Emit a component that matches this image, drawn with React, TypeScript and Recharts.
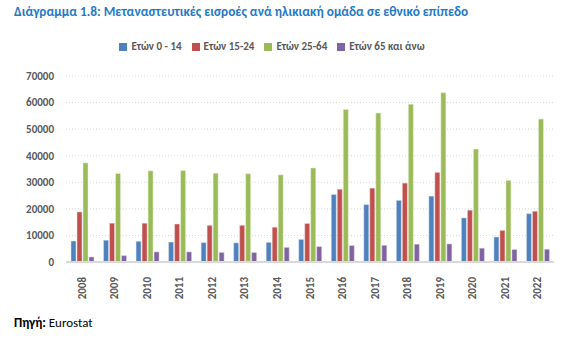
import { BarChart, Bar, XAxis, YAxis, CartesianGrid, Legend } from "recharts";

const years = ["2008", "2009", "2010", "2011", "2012", "2013", "2014", "2015", "2016", "2017", "2018", "2019", "2020", "2021", "2022"];
const age0to14 = [7900, 8200, 7800, 7500, 7300, 7200, 7400, 8500, 25400, 21600, 23200, 24800, 16600, 9400, 18200];
const age15to24 = [18850, 14600, 14600, 14300, 13800, 13800, 13100, 14500, 27400, 27800, 29700, 33700, 19500, 11900, 19100];
const age25to64 = [37300, 33300, 34300, 34400, 33400, 33200, 32800, 35400, 57400, 56100, 59400, 63700, 42500, 30700, 53800];
const age65plus = [1900, 2400, 3800, 3800, 3600, 3600, 5500, 5800, 6200, 6300, 6700, 6800, 5200, 4700, 4800];
const yTicks = [0, 10000, 20000, 30000, 40000, 50000, 60000, 70000];

const data = years.map((y, i) => ({
  year: y,
  a: age0to14[i],
  b: age15to24[i],
  c: age25to64[i],
  d: age65plus[i],
}));

const font = "Carlito, 'Open Sans', 'Liberation Sans', sans-serif";

function YearTick({ x, y, payload }: any) {
  return (
    <text
      x={x}
      y={y + 7}
      transform={`rotate(-90 ${x} ${y + 7})`}
      textAnchor="end"
      dominantBaseline="central"
      fontSize={11}
      fontWeight="bold"
      fill="#595959"
      fontFamily={font}
    >
      {payload.value}
    </text>
  );
}

export default function App() {
  return (
    <div style={{ position: "absolute", left: 0, top: 0, width: 578, height: 353, background: "#fff", fontFamily: font }}>
      <div style={{ position: "absolute", left: 14, top: 3, fontSize: 13.3, fontWeight: "bold", color: "#1f7ac4", whiteSpace: "nowrap" }}>
        Διάγραμμα 1.8: Μεταναστευτικές εισροές ανά ηλικιακή ομάδα σε εθνικό επίπεδο
      </div>
      <BarChart
        width={578}
        height={307}
        data={data}
        margin={{ top: 63, right: 24, left: 0, bottom: 0 }}
        barSize={5}
        barGap={1}
        style={{ position: "absolute", left: 0, top: 0 }}
      >
        <CartesianGrid vertical={false} stroke="#d9d9d9" strokeDasharray="1 2" />
        <XAxis
          dataKey="year"
          tick={<YearTick />}
          tickLine={false}
          axisLine={{ stroke: "#d9d9d9", strokeWidth: 2 }}
          height={45}
          interval={0}
        />
        <YAxis
          width={66}
          domain={[0, 70000]}
          ticks={yTicks}
          tickLine={false}
          axisLine={false}
          tickMargin={6}
          tick={{ fontSize: 11, fontWeight: "bold", fill: "#595959", fontFamily: font }}
        />
        <Legend
          verticalAlign="top"
          iconType="square"
          iconSize={8}
          wrapperStyle={{ top: 40, fontSize: 11, fontWeight: "bold", fontFamily: font }}
          formatter={(v: string) => <span style={{ color: "#595959", fontWeight: "bold" }}>{v}</span>}
        />
        <Bar dataKey="a" name="Ετών 0 - 14" fill="#4f81bd" stroke="#dbe4f0" strokeWidth={0.5} isAnimationActive={false} />
        <Bar dataKey="b" name="Ετών 15-24" fill="#c0504d" stroke="#f0dcdc" strokeWidth={0.5} isAnimationActive={false} />
        <Bar dataKey="c" name="Ετών 25-64" fill="#9bbb59" stroke="#e8f0dc" strokeWidth={0.5} isAnimationActive={false} />
        <Bar dataKey="d" name="Ετών 65 και άνω" fill="#8064a2" stroke="#e4dcec" strokeWidth={0.5} isAnimationActive={false} />
      </BarChart>
      <div style={{ position: "absolute", left: 14, top: 315, fontSize: 13, color: "#000", whiteSpace: "nowrap" }}>
        <b>Πηγή:</b> Eurostat
      </div>
    </div>
  );
}
